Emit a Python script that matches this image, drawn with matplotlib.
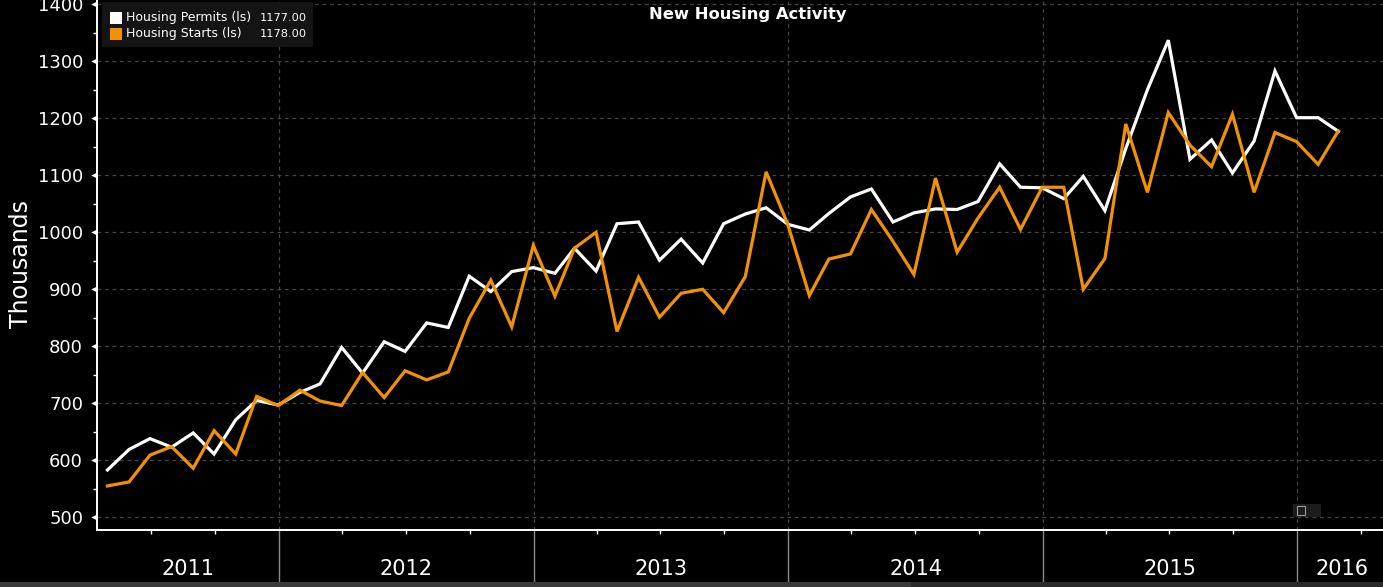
import matplotlib
matplotlib.use("Agg")
import matplotlib.pyplot as plt
import matplotlib.dates as mdates
import matplotlib.transforms as mtransforms
from matplotlib.patches import Rectangle
import pandas as pd
import datetime as dt

# monthly data, Apr 2011 .. Feb 2016 (thousands, SAAR)
dates = pd.date_range("2011-04-30", "2016-02-29", freq="ME")
permits = [583, 619, 638, 623, 648, 611, 671, 705, 697, 719, 734, 798, 753, 808, 791,
           841, 833, 923, 896, 931, 938, 928, 972, 932, 1015, 1018, 951, 988, 946, 1015,
           1032, 1043, 1014, 1004, 1033, 1062, 1076, 1018, 1034, 1041, 1040, 1054, 1120,
           1079, 1078, 1059, 1098, 1038, 1147, 1250, 1337, 1128, 1162, 1104, 1160, 1283,
           1201, 1201, 1177]
starts = [555, 562, 609, 624, 586, 652, 611, 712, 696, 723, 704, 696, 754, 710, 757,
          741, 755, 849, 916, 834, 977, 888, 972, 1000, 826, 921, 851, 893, 900, 859,
          922, 1106, 1014, 889, 953, 962, 1040, 984, 926, 1095, 965, 1025, 1079, 1005,
          1079, 1079, 900, 954, 1190, 1070, 1210, 1153, 1115, 1207, 1070, 1175, 1159,
          1119, 1178]
years = [2011, 2012, 2013, 2014, 2015, 2016]
legend_names = ["Housing Permits (ls)", "Housing Starts (ls)"]
legend_vals = ["1177.00", "1178.00"]

W, H = 1383, 587
ORANGE = "#f39200"

plt.rcParams['font.family'] = ['DejaVu Sans']
fig = plt.figure(figsize=(W / 100, H / 100), dpi=100, facecolor="black")


def px(x, y):
    return x / W, 1 - y / H


ax = fig.add_axes([97 / W, 1 - 530 / H, 1 - 97 / W, 530 / H])
ax.set_facecolor("black")

ax.plot(dates, permits, color="white", lw=2.3, solid_joinstyle="miter")
ax.plot(dates, starts, color=ORANGE, lw=2.3, solid_joinstyle="miter")

x0 = dt.datetime(2011, 4, 15)
x1 = dt.datetime(2016, 5, 3)
ax.set_xlim(x0, x1)
ax.set_ylim(477.7, 1407.5)

# grid
for v in range(500, 1401, 100):
    ax.axhline(v, color="#444444", lw=0.9, ls=(0, (3, 3)), zorder=0)
for yr in years[1:]:
    ax.axvline(dt.datetime(yr, 1, 1), color="#444444", lw=0.9, ls=(0, (3, 3)), zorder=0)

for s in ["top", "right"]:
    ax.spines[s].set_visible(False)
ax.spines["left"].set_color("white")
ax.spines["bottom"].set_color("white")
ax.spines["left"].set_linewidth(1.4)
ax.spines["bottom"].set_linewidth(1.4)

# y axis
ax.set_yticks(range(500, 1401, 100))
ax.set_yticks(range(550, 1400, 100), minor=True)
ax.tick_params(axis="y", which="major", length=0, pad=10, labelsize=13, labelcolor="white")
ax.tick_params(axis="y", which="minor", length=3, width=1, color="white", direction="out")
tri = mtransforms.offset_copy(ax.get_yaxis_transform(), fig=fig, x=-3.5, y=0, units="dots")
ax.scatter([0] * 10, list(range(500, 1401, 100)), marker="<", s=22, color="white",
           transform=tri, clip_on=False, zorder=5, linewidths=0)
fig.text(*px(21, 264), "Thousands", color="white", fontsize=17, rotation=90,
         ha="center", va="center")

# x axis
ax.xaxis.set_major_locator(mdates.MonthLocator(bymonth=[4, 7, 10]))
ax.xaxis.set_major_formatter(plt.NullFormatter())
ax.tick_params(axis="x", which="major", length=3, width=1, color="white", direction="out")

trans = ax.get_xaxis_transform()
for yr in years[1:]:
    ax.plot([dt.datetime(yr, 1, 1)] * 2, [0, -52 / 530], color="#8a8a8a", lw=1,
            transform=trans, clip_on=False)
for yr in years:
    a = max(mdates.date2num(dt.datetime(yr, 1, 1)), mdates.date2num(x0))
    b = min(mdates.date2num(dt.datetime(yr + 1, 1, 1)), mdates.date2num(x1))
    ax.text((a + b) / 2 + (3 if yr == 2016 else 0), -39 / 530, str(yr), transform=trans,
            ha="center", va="center", color="white", fontsize=15)

# title
fig.text(*px(748, 14), "New Housing Activity", color="white", fontsize=11.8,
         fontweight="bold", ha="center", va="center")

# legend box
fig.patches.append(Rectangle(px(102, 47), 211 / W, 45 / H, transform=fig.transFigure,
                             facecolor="#141414", edgecolor="none"))
for i, (c, name, val) in enumerate(zip(["white", ORANGE], legend_names, legend_vals)):
    yc = 18 + 16 * i
    fig.patches.append(Rectangle(px(110, yc + 6), 12 / W, 12 / H, transform=fig.transFigure,
                                 facecolor=c, edgecolor="none"))
    fig.text(*px(126, yc), name, color="white", fontsize=9.0, ha="left", va="center")
    fig.text(*px(307, yc), val, color="white", fontsize=8.2, ha="right", va="center")

# small chart icon
fig.patches.append(Rectangle(px(1293, 517), 28 / W, 13 / H, transform=fig.transFigure,
                             facecolor="#1c1c1c", edgecolor="none"))
fig.patches.append(Rectangle(px(1297, 515), 8 / W, 9 / H, transform=fig.transFigure,
                             facecolor="none", edgecolor="#9a9a9a", lw=0.8))

# bottom bar
fig.patches.append(Rectangle((0, 0), 911 / W, 5 / H, transform=fig.transFigure,
                             facecolor="#3a3a3a", edgecolor="none"))
fig.patches.append(Rectangle((911 / W, 0), 1 - 911 / W, 5 / H, transform=fig.transFigure,
                             facecolor="#2a2a2a", edgecolor="none"))

fig.savefig("out.png", dpi=100, facecolor="black")
